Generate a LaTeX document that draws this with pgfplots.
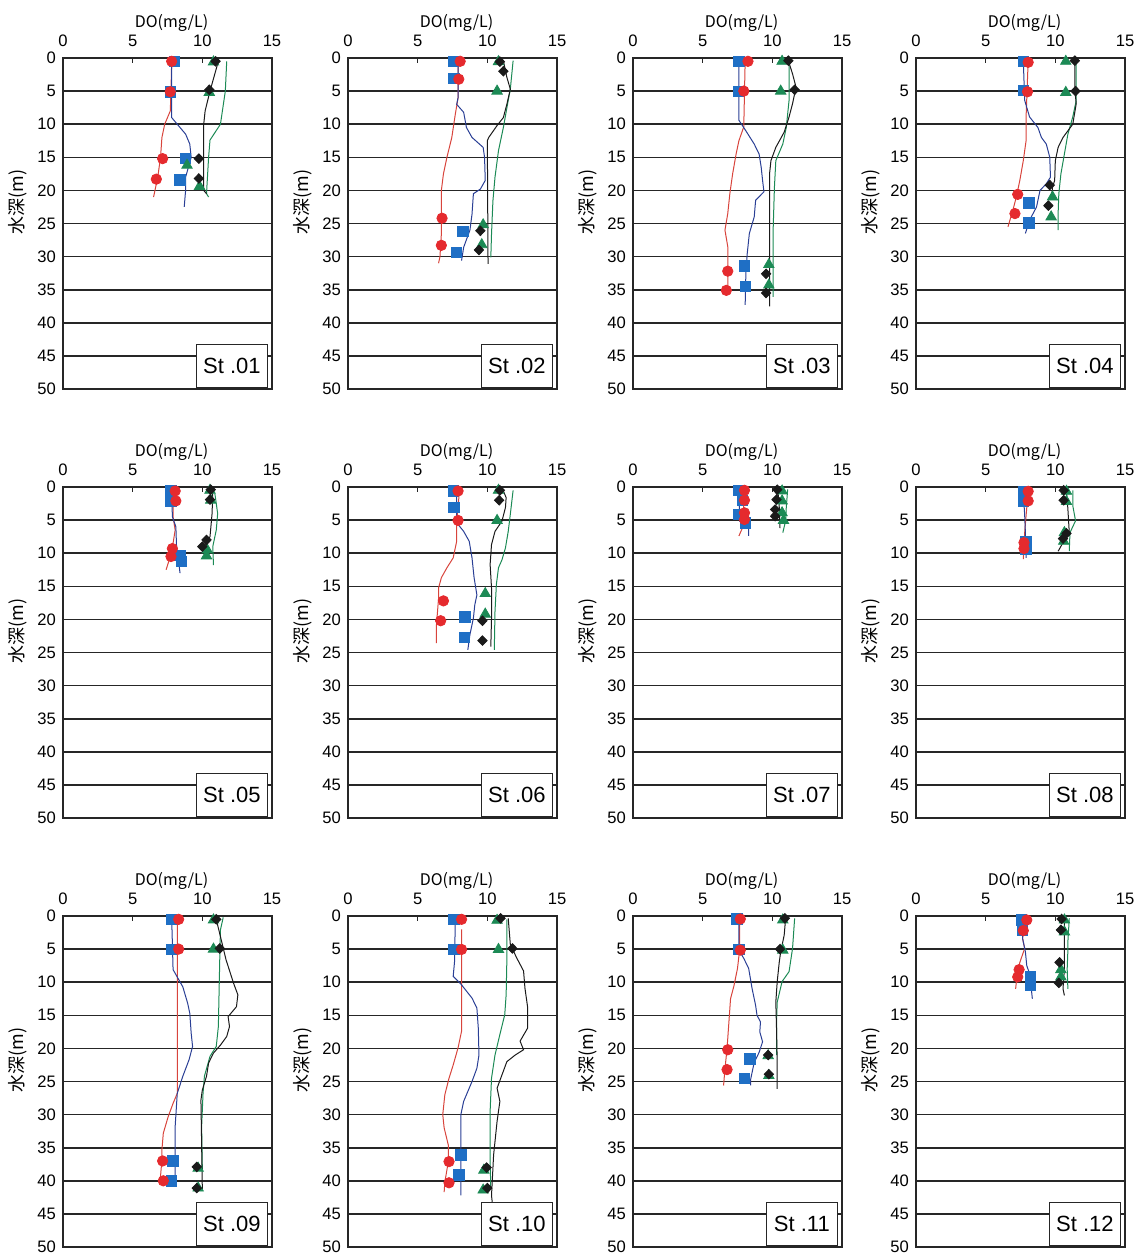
\documentclass[border=0pt]{standalone}
\usepackage{fontspec}
\setmainfont{Liberation Sans}
\newfontfamily\jp{Noto Sans CJK JP}
\usepackage{pgfplots}
\pgfplotsset{compat=1.18}
\definecolor{cRed}{HTML}{E52A2E}
\definecolor{cRedL}{HTML}{D8443C}
\definecolor{cBlue}{HTML}{1F6FC5}
\definecolor{cBlueL}{HTML}{2A3F95}
\definecolor{cGreen}{HTML}{1C8A55}
\definecolor{cBlack}{HTML}{1A1A1A}
\pgfplotsset{
  panel/.style={
    width=104.5pt, height=165.5pt, scale only axis, anchor=north west,
    xmin=0, xmax=15, ymin=0, ymax=50, y dir=reverse,
    xtick={0,5,10,15}, ytick={0,5,...,50},
    xticklabel pos=upper, xtick pos=upper,
    tick align=inside, major tick length=2.5pt,
    ytick style={draw=none},
    ymajorgrids, major grid style={black!85, line width=0.8pt},
    axis line style={black!85, line width=0.6pt},
    xtick style={black!85, line width=0.6pt},
    /pgf/number format/assume math mode=true,
    ticklabel style={font=\fontsize{8.3}{9}\selectfont},
    xticklabel style={yshift=2pt},
    xlabel={DO(mg/L)}, ylabel={水深(m)},
    xlabel style={font=\jp\fontsize{8}{9}\selectfont, at={(axis description cs:0.5,1)}, anchor=center, yshift=17.5pt, xshift=2pt},
    ylabel style={font=\jp\fontsize{9}{10}\selectfont, at={(axis description cs:-0.215,0.564)}, anchor=center},
    clip=false,
  },
  lred/.style={color=cRedL, line width=0.5pt, no marks},
  lblue/.style={color=cBlueL, line width=0.5pt, no marks},
  lgreen/.style={color=cGreen, line width=0.5pt, no marks},
  lblack/.style={color=cBlack, line width=0.5pt, no marks},
  mblue/.style={only marks, mark=square*, mark size=2.6pt, color=cBlue},
  mred/.style={only marks, mark=*, mark size=2.6pt, color=cRed},
  mgreen/.style={only marks, mark=triangle*, mark size=3pt, color=cGreen},
  mblack/.style={only marks, mark=diamond*, mark size=2.4pt, mark options={xscale=1.3}, color=cBlack},
}
\tikzset{stbox/.style={draw=black!85, line width=0.6pt, fill=white, minimum width=35.5pt, minimum height=21.5pt, anchor=south east, xshift=-2pt, yshift=0.5pt, font=\fontsize{11}{12}\selectfont, inner sep=1pt}}
\begin{document}
\begin{tikzpicture}
\path[use as bounding box] (0,0) rectangle (571.5pt,-628.5pt);
% ---------- St.01
\begin{axis}[panel, at={(31.5pt,-29pt)}]
\addplot[lred] coordinates {(7.8,0.5)(7.75,5)(7.7,8)(7.3,10)(7.1,12)(7.0,15)(6.8,18)(6.6,20)(6.5,21)};
\addplot[lblue] coordinates {(7.8,0.5)(7.8,5)(7.8,9)(8.2,10)(8.8,11.5)(9.1,13)(9.2,15)(9.0,16.5)(8.8,18)(8.8,20)(8.7,22.5)};
\addplot[lgreen] coordinates {(11.75,0.5)(11.65,5)(11.3,10)(10.55,12.4)(10.45,15)(10.3,20.5)(10.45,21)};
\addplot[lblack] coordinates {(11.15,0.5)(10.55,5)(10.2,8)(10.1,10)(10.1,20)(10.3,20.5)};
\addplot[mblue] coordinates {(8.0,0.5)(7.7,5.1)(8.8,15.2)(8.4,18.4)};
\addplot[mred] coordinates {(7.8,0.5)(7.7,5.1)(7.15,15.2)(6.7,18.3)};
\addplot[mgreen] coordinates {(10.8,0.6)(10.5,5.2)(8.9,16.2)(9.8,19.4)};
\addplot[mblack] coordinates {(10.95,0.5)(10.5,4.8)(9.75,15.2)(9.75,18.2)};
\node[stbox] at (axis description cs:1,0) {St .01};
\end{axis}
% ---------- St.02
\begin{axis}[panel, at={(174pt,-29pt)}]
\addplot[lred] coordinates {(7.9,0.5)(7.9,6)(7.7,8.5)(7.45,12)(7.1,15)(6.85,17.5)(6.7,20)(6.7,26.6)(6.6,30)(6.5,31)};
\addplot[lblue] coordinates {(7.9,0.5)(7.9,6)(7.8,7)(8.3,8.2)(8.5,10.5)(8.9,12)(9.7,13.5)(9.8,15)(9.85,18.5)(9.5,19.8)(9.0,20.5)(8.9,23.6)(8.75,26)(8.3,28.6)(8.15,30.6)};
\addplot[lgreen] coordinates {(11.85,0.4)(11.65,4.7)(11.5,6.4)(11.15,10.5)(10.8,14)(10.55,18)(10.4,21.6)(10.3,26.6)(10.25,30.1)};
\addplot[lblack] coordinates {(11.15,0.4)(11.4,2.9)(11.65,4.7)(11.4,7)(11.15,9)(10.7,10.2)(10.1,12)(10.0,12.5)(10.05,31.1)};
\addplot[mblue] coordinates {(7.55,0.5)(7.6,3.1)(8.25,26.2)(7.8,29.4)};
\addplot[mred] coordinates {(8.05,0.5)(7.95,3.2)(6.75,24.2)(6.7,28.3)};
\addplot[mgreen] coordinates {(10.8,0.55)(10.7,5.0)(9.7,25.2)(9.6,28.2)};
\addplot[mblack] coordinates {(10.9,0.55)(11.15,2.0)(9.5,26.1)(9.4,29.0)};
\node[stbox] at (axis description cs:1,0) {St .02};
\end{axis}
% ---------- St.03
\begin{axis}[panel, at={(316.5pt,-29pt)}]
\addplot[lred] coordinates {(8.05,0.4)(7.95,10.4)(7.6,12.5)(7.4,14.5)(7.15,17.5)(6.95,20.5)(6.8,23.5)(6.6,26)(6.8,28.5)(6.8,31.6)(6.8,35.6)};
\addplot[lblue] coordinates {(7.6,0.4)(7.6,9.4)(8.1,11)(8.7,13)(9.05,14.5)(9.2,16.5)(9.3,18.5)(9.4,20.2)(8.8,21.5)(8.7,24)(8.35,26.5)(8.2,29.5)(8.1,32.6)(8.05,37.3)};
\addplot[lgreen] coordinates {(11.2,0.4)(11.2,6.4)(11.0,10.5)(10.75,13)(10.25,15.5)(10.15,19.5)(10.05,26.5)(10.05,36.1)};
\addplot[lblack] coordinates {(11.15,0.4)(11.45,2.4)(11.7,4.4)(11.45,6.9)(11.2,8.9)(10.85,11.2)(10.25,13.5)(9.9,15.5)(9.8,17.5)(9.8,37.5)};
\addplot[mblue] coordinates {(7.6,0.5)(7.55,5.0)(8.0,31.4)(8.05,34.5)};
\addplot[mred] coordinates {(8.25,0.5)(7.95,5.0)(6.8,32.2)(6.7,35.1)};
\addplot[mgreen] coordinates {(10.7,0.5)(10.6,5.0)(9.75,31.2)(9.75,34.3)};
\addplot[mblack] coordinates {(11.15,0.4)(11.6,4.8)(9.55,32.6)(9.55,35.5)};
\node[stbox] at (axis description cs:1,0) {St .03};
\end{axis}
% ---------- St.04
\begin{axis}[panel, at={(458pt,-29pt)}]
\addplot[lred] coordinates {(8.05,0.4)(7.9,8.9)(7.9,12.5)(7.7,15.5)(7.45,18.5)(7.2,21)(6.95,23)(6.6,25.5)};
\addplot[lblue] coordinates {(7.7,0.4)(7.8,6.4)(8.15,8.9)(8.75,10.5)(9.0,12)(9.35,13)(9.6,15)(9.65,18)(9.35,19)(8.9,20)(8.65,22.5)(8.15,24.5)(7.85,26.5)};
\addplot[lgreen] coordinates {(11.5,0.4)(11.5,6.4)(11.25,8.9)(10.9,11.5)(10.65,14.5)(10.4,17.5)(10.25,20.5)(10.2,23.5)(10.2,26)};
\addplot[lblack] coordinates {(11.4,0.4)(11.4,4.9)(11.5,6.9)(11.25,10)(10.55,12)(10.2,13.5)(10.0,15.5)(9.95,18.5)(9.8,19.5)(9.75,20.5)};
\addplot[mblue] coordinates {(7.7,0.55)(7.7,4.9)(8.1,21.9)(8.1,24.9)};
\addplot[mred] coordinates {(8.05,0.65)(8.0,5.1)(7.3,20.6)(7.1,23.5)};
\addplot[mgreen] coordinates {(10.75,0.5)(10.75,5.2)(9.8,21)(9.7,24)};
\addplot[mblack] coordinates {(11.4,0.4)(11.45,5.0)(9.6,19.2)(9.5,22.3)};
\node[stbox] at (axis description cs:1,0) {St .04};
\end{axis}
% ---------- St.05
\begin{axis}[panel, at={(31.5pt,-243.5pt)}]
\addplot[lred] coordinates {(7.9,0.5)(7.9,4.5)(8.05,6.5)(7.9,8.5)(7.7,10.5)(7.4,12.5)};
\addplot[lblue] coordinates {(7.8,0.5)(7.85,4.5)(8.1,6)(8.15,9)(8.3,11.3)(8.4,13)};
\addplot[lgreen] coordinates {(10.9,1)(11.1,4)(11.0,6.5)(10.75,9)(10.8,11.8)};
\addplot[lblack] coordinates {(10.75,0.5)(10.7,4)(10.55,7.5)(10.1,9)};
\addplot[mblue] coordinates {(7.75,0.6)(7.75,2.1)(8.4,10.3)(8.5,11.2)};
\addplot[mred] coordinates {(8.05,0.6)(8.1,2.1)(7.85,9.3)(7.75,10.5)};
\addplot[mgreen] coordinates {(10.55,0.5)(10.6,2.0)(10.35,9.5)(10.3,10.4)};
\addplot[mblack] coordinates {(10.6,0.4)(10.55,1.9)(10.3,8.0)(10.0,9.0)};
\node[stbox] at (axis description cs:1,0) {St .05};
\end{axis}
% ---------- St.06
\begin{axis}[panel, at={(174pt,-243.5pt)}]
\addplot[lred] coordinates {(8.0,0.6)(7.8,5.15)(7.8,8.2)(7.55,10.7)(7.1,12.2)(6.7,13.7)(6.5,15.25)(6.5,16.8)(6.35,20.8)(6.35,23.6)};
\addplot[lblue] coordinates {(7.8,0.6)(7.8,5.4)(8.3,6.7)(8.7,8.2)(8.9,10.7)(9.05,13.7)(9.25,16.3)(9.1,17.8)(9.0,19.8)(8.75,22.3)(8.6,24.6)};
\addplot[lgreen] coordinates {(11.85,0.5)(11.65,4.1)(11.5,6.7)(11.3,9.2)(11.05,11)(10.8,12.2)(10.65,14.7)(10.55,18.8)(10.5,24.6)};
\addplot[lblack] coordinates {(11.15,0.6)(11.35,1.6)(11.3,3.1)(11.05,5.15)(10.55,6.7)(10.3,8.7)(10.2,11.7)(10.3,15.25)(10.3,19.8)(10.25,24.1)};
\addplot[mblue] coordinates {(7.55,0.6)(7.6,3.1)(8.4,19.6)(8.35,22.7)};
\addplot[mred] coordinates {(7.9,0.6)(7.9,5.05)(6.85,17.2)(6.65,20.2)};
\addplot[mgreen] coordinates {(10.8,0.5)(10.7,5.05)(9.85,16.1)(9.85,19.2)};
\addplot[mblack] coordinates {(10.9,0.5)(10.85,2.0)(9.65,20.2)(9.65,23.2)};
\node[stbox] at (axis description cs:1,0) {St .06};
\end{axis}
% ---------- St.07
\begin{axis}[panel, at={(316.5pt,-243.5pt)}]
\addplot[lred] coordinates {(8.0,0.6)(7.85,6.2)(7.6,7.4)};
\addplot[lblue] coordinates {(7.6,0.6)(7.65,5.15)(8.3,6.2)(8.3,7.4)};
\addplot[lgreen] coordinates {(11.1,0.35)(11.0,3.1)(10.95,5.15)(10.75,6.9)};
\addplot[lblack] coordinates {(10.4,0.6)(10.5,3.1)(10.55,6.2)};
\addplot[mblue] coordinates {(7.55,0.5)(7.85,2.0)(7.55,4.1)(8.05,5.4)};
\addplot[mred] coordinates {(8.0,0.5)(8.0,2.0)(8.0,3.9)(8.0,4.9)};
\addplot[mgreen] coordinates {(10.7,0.6)(10.7,2.1)(10.7,3.9)(10.8,5.05)};
\addplot[mblack] coordinates {(10.35,0.4)(10.3,1.9)(10.2,3.4)(10.2,4.4)};
\node[stbox] at (axis description cs:1,0) {St .07};
\end{axis}
% ---------- St.08
\begin{axis}[panel, at={(458pt,-243.5pt)}]
\addplot[lred] coordinates {(8.05,0.75)(7.9,4.3)(7.8,6.9)(7.7,10.9)};
\addplot[lblue] coordinates {(7.7,0.75)(7.8,4.3)(7.85,6.9)(7.9,10.7)};
\addplot[lgreen] coordinates {(11.25,0.5)(11.25,2.8)(11.45,5.1)(11.05,6.9)(11.0,9.7)};
\addplot[lblack] coordinates {(10.8,0.75)(10.9,3.3)(11.0,6.9)(10.55,8.4)(10.2,9.7)};
\addplot[mblue] coordinates {(7.7,0.65)(7.7,2.1)(7.9,8.2)(7.9,9.4)};
\addplot[mred] coordinates {(8.05,0.65)(8.05,2.1)(7.75,8.4)(7.75,9.3)};
\addplot[mgreen] coordinates {(10.8,0.65)(10.8,2.2)(10.65,6.9)(10.6,8.2)};
\addplot[mblack] coordinates {(10.6,0.5)(10.6,2.0)(10.8,7.0)(10.55,7.8)};
\node[stbox] at (axis description cs:1,0) {St .08};
\end{axis}
% ---------- St.09
\begin{axis}[panel, at={(31.5pt,-458pt)}]
\addplot[lred] coordinates {(8.2,0.35)(8.2,26.8)(7.9,28.3)(7.55,30.3)(7.2,32.8)(7.1,35.3)(7.1,36.8)(7.0,39.3)(7.2,40.3)};
\addplot[lblue] coordinates {(7.8,0.35)(7.85,4.1)(7.9,8.1)(8.6,10.7)(8.95,13.2)(9.1,14.7)(9.2,17.7)(9.3,19.7)(9.05,21.7)(8.6,24.2)(8.2,26.8)(8.05,31.8)(8.05,39.8)};
\addplot[lgreen] coordinates {(11.5,0.2)(11.3,2.1)(11.25,6.6)(11.2,11.7)(11.15,16.7)(11.0,19.7)(10.55,21.2)(10.15,24.2)(10.05,26.8)(9.95,31.8)(10.0,38.3)};
\addplot[lblack] coordinates {(10.95,0.1)(11.3,3.1)(11.7,6.6)(12.25,10.2)(12.55,11.9)(12.45,13.7)(11.85,15.2)(11.95,16.7)(11.75,18.2)(11.3,19.5)(10.8,20.7)(10.45,22.2)(10.3,24.2)(10.0,26.3)(9.9,27.8)(10.0,41.3)};
\addplot[mblue] coordinates {(7.8,0.5)(7.8,5.0)(7.9,37.0)(7.8,40.0)};
\addplot[mred] coordinates {(8.3,0.5)(8.3,5.0)(7.15,37.0)(7.2,40.0)};
\addplot[mgreen] coordinates {(10.8,0.6)(10.8,5.0)(9.7,38.1)(9.7,41.1)};
\addplot[mblack] coordinates {(11.0,0.5)(11.25,4.9)(9.6,37.9)(9.6,41.1)};
\node[stbox] at (axis description cs:1,0) {St .09};
\end{axis}
% ---------- St.10
\begin{axis}[panel, at={(174pt,-458pt)}]
\addplot[lred] coordinates {(8.15,2.0)(8.15,17.4)(7.9,19.9)(7.55,22.5)(7.25,24.5)(6.95,27)(6.8,30)(6.9,32)(7.2,34.6)(7.2,37.1)(6.95,40.2)(6.9,41.7)};
\addplot[lblue] coordinates {(7.7,0.5)(7.65,6.8)(7.55,9.1)(8.15,10.4)(8.9,12.4)(9.25,13.9)(9.35,16.9)(9.4,21)(9.25,23)(8.9,25)(8.3,28)(8.1,30)(8.1,42.2)};
\addplot[lgreen] coordinates {(11.4,0.5)(11.4,6.8)(11.35,11.9)(11.25,14.9)(10.9,17.9)(10.55,21)(10.3,24.5)(10.2,29.5)(10.2,37.1)(10.25,41.2)};
\addplot[lblack] coordinates {(11.5,0.35)(11.65,4.3)(12.1,6.3)(12.6,8.3)(12.7,10.9)(12.9,13.9)(12.9,16.9)(12.35,18.9)(12.6,20.2)(12.0,21)(11.4,22)(11.05,24)(10.7,26)(10.9,28)(10.7,31)(10.45,36.1)(10.3,42.2)(10.35,43.2)};
\addplot[mblue] coordinates {(7.6,0.5)(7.6,5.05)(8.1,36.1)(7.95,39.1)};
\addplot[mred] coordinates {(8.15,0.5)(8.15,5.05)(7.25,37.1)(7.25,40.3)};
\addplot[mgreen] coordinates {(10.7,0.65)(10.8,5.05)(9.75,38.4)(9.7,41.4)};
\addplot[mblack] coordinates {(10.95,0.35)(11.8,4.9)(9.95,38.0)(10.0,41.1)};
\node[stbox] at (axis description cs:1,0) {St .10};
\end{axis}
% ---------- St.11
\begin{axis}[panel, at={(316.5pt,-458pt)}]
\addplot[lred] coordinates {(7.65,0.45)(7.65,5.15)(7.5,7.9)(7.25,10.5)(7.0,12.5)(6.9,15.5)(6.75,20)(6.6,23.1)(6.5,25.6)};
\addplot[lblue] coordinates {(7.6,0.45)(7.6,5.15)(7.95,6.4)(8.3,7.9)(8.55,11)(8.8,13.5)(8.9,15)(9.15,16)(9.1,17.5)(9.3,19)(9.05,20.6)(8.7,22.1)(8.45,24.6)(8.45,25.6)};
\addplot[lgreen] coordinates {(11.6,0.35)(11.45,4.9)(11.2,8.4)(10.7,9.9)(10.35,13)(10.3,16)(10.3,19.5)(10.3,21)};
\addplot[lblack] coordinates {(10.95,0.45)(10.85,2.9)(10.6,5.4)(10.5,6.9)(10.35,9.9)(10.25,13)(10.3,17)(10.35,22.1)(10.35,26.1)};
\addplot[mblue] coordinates {(7.45,0.45)(7.6,5.0)(8.4,21.6)(8.0,24.5)};
\addplot[mred] coordinates {(7.7,0.45)(7.7,5.15)(6.8,20.2)(6.75,23.2)};
\addplot[mgreen] coordinates {(10.75,0.6)(10.75,5.15)(9.7,21.1)(9.75,24.1)};
\addplot[mblack] coordinates {(10.9,0.35)(10.55,5.0)(9.7,21)(9.75,23.9)};
\node[stbox] at (axis description cs:1,0) {St .11};
\end{axis}
% ---------- St.12
\begin{axis}[panel, at={(458pt,-458pt)}]
\addplot[lred] coordinates {(7.8,0.6)(7.65,3.4)(7.8,4.9)(7.55,6.4)(7.3,8.0)(7.15,11)};
\addplot[lblue] coordinates {(7.65,0.6)(7.65,3.4)(7.85,5.4)(7.95,7.5)(8.15,8.7)(8.25,10.5)(8.35,12.5)};
\addplot[lgreen] coordinates {(11.0,0.35)(10.9,3.9)(10.9,5.2)(10.85,8)(10.9,11)};
\addplot[lblack] coordinates {(10.65,0.45)(10.65,4.4)(10.65,8)(10.55,11)(10.65,12)};
\addplot[mblue] coordinates {(7.55,0.6)(7.65,2.2)(8.2,9.2)(8.2,10.5)};
\addplot[mred] coordinates {(7.95,0.6)(7.7,2.2)(7.4,8.1)(7.3,9.2)};
\addplot[mgreen] coordinates {(10.65,0.6)(10.65,2.4)(10.4,8.1)(10.4,9.2)};
\addplot[mblack] coordinates {(10.45,0.45)(10.4,2.1)(10.3,7.0)(10.25,10.1)};
\node[stbox] at (axis description cs:1,0) {St .12};
\end{axis}
\end{tikzpicture}
\end{document}
